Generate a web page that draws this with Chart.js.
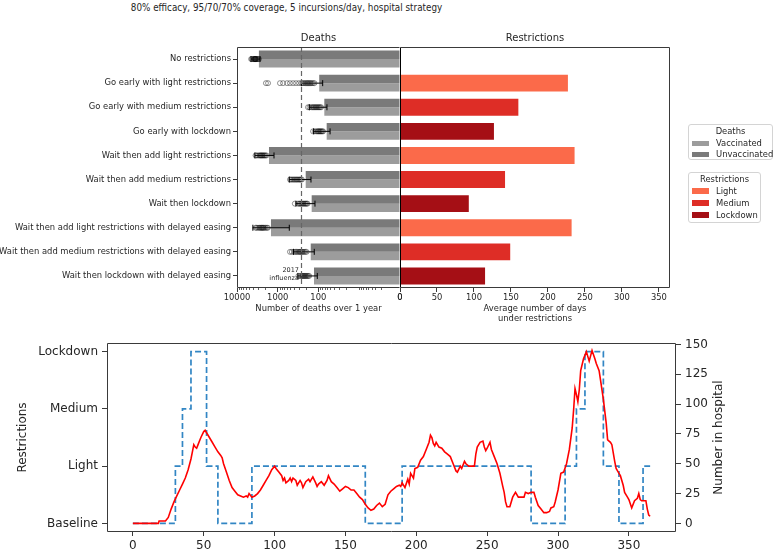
<!DOCTYPE html>
<html><head><meta charset="utf-8">
<script src="https://cdn.jsdelivr.net/npm/chart.js@4.4.1/dist/chart.umd.min.js"></script>
<style>
body{margin:0;background:#fff;width:777px;height:553px;overflow:hidden;position:relative;font-family:'DejaVu Sans',sans-serif;color:#262626}
canvas{position:absolute}
.t{position:absolute;white-space:nowrap;font-size:8.4px;line-height:10px}
.box{position:absolute;border:1px solid #d4d4d4;border-radius:3px;background:#fff;box-sizing:border-box}
.p{position:absolute;width:17px;height:5.5px}
</style></head><body>
<div class="t" style="left:0;top:1px;width:573px;text-align:center;font-size:11px;line-height:13px;transform:scaleX(0.8);transform-origin:286.5px 6px">80% efficacy, 95/70/70% coverage, 5 incursions/day, hospital strategy</div>
<canvas id="cA" width="420" height="300" style="left:0;top:30px"></canvas>
<canvas id="cB" width="310" height="300" style="left:380px;top:30px"></canvas>
<canvas id="cC" width="777" height="223" style="left:0;top:330px"></canvas>

<div class="box" style="left:688px;top:124px;width:85px;height:36px"></div>
<div class="t" style="left:688px;top:126px;width:85px;text-align:center">Deaths</div>
<div class="p" id="pV" style="left:692px;top:140.5px"></div><div class="t" style="left:716px;top:138px">Vaccinated</div>
<div class="p" id="pU" style="left:692px;top:151.5px"></div><div class="t" style="left:716px;top:149px">Unvaccinated</div>

<div class="box" style="left:688px;top:172px;width:73px;height:51px"></div>
<div class="t" style="left:688px;top:173.5px;width:73px;text-align:center">Restrictions</div>
<div class="p" id="pL" style="left:692px;top:188px"></div><div class="t" style="left:716px;top:185.7px">Light</div>
<div class="p" id="pM" style="left:692px;top:200px"></div><div class="t" style="left:716px;top:197.7px">Medium</div>
<div class="p" id="pK" style="left:692px;top:212.3px"></div><div class="t" style="left:716px;top:210px">Lockdown</div>

<script>
// ---------------- data ----------------
const rowLabels = [
  'No restrictions',
  'Go early with light restrictions',
  'Go early with medium restrictions',
  'Go early with lockdown',
  'Wait then add light restrictions',
  'Wait then add medium restrictions',
  'Wait then lockdown',
  'Wait then add light restrictions with delayed easing',
  'Wait then add medium restrictions with delayed easing',
  'Wait then lockdown with delayed easing'
];
const deathsUnvaccinated = [2900, 95, 71, 62, 1640, 205, 146, 1465, 154, 128];
const deathsVaccinated   = [2900, 95, 71, 62, 1640, 205, 146, 1465, 154, 128];
const runDeaths = [
  [4500, 4300, 4000, 3850, 3750, 3650, 3600, 3550, 3500, 3400, 3300, 3200, 3050, 2900],
  [1950, 1730, 880, 740, 590, 500, 420, 355, 300, 260, 240, 225, 210, 195, 185, 175, 165, 155, 145, 135, 125],
  [180, 165, 150, 140, 132, 125, 118, 112, 106, 100, 95, 90, 85],
  [135, 122, 112, 105, 100, 96, 92, 88, 84, 80, 76],
  [3500, 3300, 3050, 2850, 2700, 2600, 2500, 2400, 2300, 2200, 2100, 2000, 1880],
  [500, 470, 440, 410, 385, 360, 340, 320, 300, 285, 270, 255],
  [380, 320, 300, 285, 270, 255, 240, 228, 215, 205, 195, 185],
  [3500, 3300, 3050, 2850, 2700, 2550, 2450, 2350, 2250, 2150, 2000, 1850, 1750],
  [500, 450, 400, 370, 345, 320, 300, 285, 270, 255, 240, 225, 210, 195],
  [310, 285, 265, 250, 238, 228, 218, 208, 198, 188, 178, 168]
];
const errLow  = [2725, 78, 61, 51, 1235, 152, 121, 520, 126, 106];
const errHigh = [4530, 262, 167, 131, 3635, 520, 357, 4080, 410, 320];
const influenzaDeaths = 270;
const deathTicks = [0, 100, 1000, 10000];
const deathMinorTicks = [2,3,4,5,6,7,8,9,20,30,40,50,60,70,80,90,200,300,400,500,600,700,800,900,2000,3000,4000,5000,6000,7000,8000,9000];

const restrictionDays = [0, 227, 160, 127, 236, 142, 93, 232, 149, 115];
const restrictionType = ['Light', 'Light', 'Medium', 'Lockdown', 'Light', 'Medium', 'Lockdown', 'Light', 'Medium', 'Lockdown'];

const dayTicks = [0, 50, 100, 150, 200, 250, 300, 350];
const levelLabels = ['Baseline', 'Light', 'Medium', 'Lockdown'];
const stepDays   = [0, 30, 35, 41, 52, 60, 84, 164, 190, 281, 305, 313, 319, 332, 343, 360, 365];
const stepLevels = [0, 1, 2, 3, 1, 0, 1, 0, 1, 0, 1, 2, 3, 1, 0, 1, 1];

const hospDays = [0,18,18.5,23,25,27,29,31,33,35,37,39,41,42,43,44,45,46,47,48,50,51,52,54,56,58,60,62,63,64,66,68,70,72,74,76,78,80,81,82,84,86,88,90,92,94,96,98,100,101,103,105,106,107,108,110,111,112,113,115,116,118,119,120,122,124,125,127,129,130,131,133,135,137,138,140,142,144,146,148,150,152,154,156,158,160,162,164,166,168,170,172,174,176,178,180,182,184,186,188,189,190,192,194,195,196,198,199,201,203,205,207,209,210,211,212,213,214,216,218,220,222,224,226,228,229,231,232,234,235,237,239,241,242,243,245,247,248,249,250,252,253,255,257,259,261,262,263,264,266,268,270,272,274,276,277,279,281,283,284,286,288,290,292,294,295,297,298,300,302,304,306,308,310,311,312,313,314,315,316,318,320,322,324,326,327,329,330,332,334,335,337,338,340,341,343,344,346,347,349,350,352,354,356,357,358,359,361,362,363,364,365];
const hospCount = [0,0,2,2,5,12,18,23,28,33,38,45,54,60,66,64,63,66,69,72,77,78,76,72,68,64,60,57,55,50,43,36,30,27,24,23,22,23,22,25,22,23,25,28,32,36,40,45,48,46,43,40,36,38,34,36,38,35,38,36,32,36,34,30,35,37,35,39,34,31,33,35,32,36,40,35,33,30,27,29,31,30,28,28,25,22,20,16,13,11,12,15,17,14,16,24,27,29,31,32,31,34,30,37,33,42,38,46,47,53,56,62,68,74,72,67,65,68,64,63,60,58,56,50,44,43,48,46,52,50,48,48,48,58,64,68,69,64,61,63,68,62,56,50,42,31,26,18,14,14,22,26,22,22,22,26,25,26,26,22,15,12,9,9,10,13,14,18,28,42,43,50,62,80,95,113,108,102,112,128,138,144,136,145,138,134,128,120,104,84,70,68,66,52,46,42,40,32,26,22,20,13,19,21,25,20,19,19,19,12,7,6];

// ---------------- style ----------------
const TXT = '#262626', AX = '#3a3a3a';
const greyDark = '#7a7a7a', greyLight = '#9c9c9c';
const resColors = {Light: '#fb6a4a', Medium: '#de2d26', Lockdown: '#a50f15'};
document.getElementById('pV').style.background = greyLight;
document.getElementById('pU').style.background = greyDark;
document.getElementById('pL').style.background = resColors.Light;
document.getElementById('pM').style.background = resColors.Medium;
document.getElementById('pK').style.background = resColors.Lockdown;

Chart.defaults.font.family = "'DejaVu Sans', sans-serif";
Chart.defaults.color = TXT;
const fS = {size: 8.4, family: "'DejaVu Sans', sans-serif"};
const fB = {size: 12, family: "'DejaVu Sans', sans-serif"};
const tv = v => Math.log10(1 + v);

function framePlugin(leftColor, rightColor) {
  return {id: 'frame', afterDraw(chart) {
    const {ctx, chartArea: a} = chart;
    const L = Math.round(a.left) + 0.5, R = Math.round(a.right) - 0.5, T = Math.round(a.top) + 0.5, B = Math.round(a.bottom) - 0.5;
    ctx.save(); ctx.lineWidth = 1;
    ctx.strokeStyle = AX; ctx.beginPath(); ctx.moveTo(L, T); ctx.lineTo(R, T); ctx.moveTo(L, B); ctx.lineTo(R, B); ctx.stroke();
    if (leftColor) { ctx.strokeStyle = leftColor; ctx.beginPath(); ctx.moveTo(L, T); ctx.lineTo(L, B); ctx.stroke(); }
    if (rightColor) { ctx.strokeStyle = rightColor; ctx.beginPath(); ctx.moveTo(R, T); ctx.lineTo(R, B); ctx.stroke(); }
    ctx.restore();
  }};
}
function panelTitle(text) {
  return {id: 'ptitle', afterDraw(chart) {
    const {ctx, chartArea: a} = chart;
    ctx.save(); ctx.font = "10px 'DejaVu Sans'"; ctx.fillStyle = TXT; ctx.textAlign = 'center'; ctx.textBaseline = 'middle';
    ctx.fillText(text, (a.left + a.right) / 2, a.top - 9); ctx.restore();
  }};
}

// ---------------- Chart A: deaths ----------------
const scatterData = [];
runDeaths.forEach((arr, i) => arr.forEach(v => scatterData.push({x: tv(v), y: rowLabels[i]})));
const errSets = rowLabels.map((lab, i) => ({
  type: 'line', data: [{x: tv(errLow[i]), y: lab}, {x: tv(errHigh[i]), y: lab}],
  borderColor: '#000', borderWidth: 1, pointStyle: 'line', pointRotation: 90, pointRadius: 3,
  pointBorderColor: '#000', pointBorderWidth: 1, order: 0
}));
new Chart(document.getElementById('cA'), {
  type: 'bar',
  data: {labels: rowLabels, datasets: [
    {label: 'Unvaccinated', data: deathsUnvaccinated.map(tv), backgroundColor: greyDark, categoryPercentage: 0.7, barPercentage: 1, order: 3},
    {label: 'Vaccinated', data: deathsVaccinated.map(tv), backgroundColor: greyLight, categoryPercentage: 0.7, barPercentage: 1, order: 3},
    {type: 'scatter', data: scatterData, pointRadius: 2.5, pointBorderWidth: 1, pointBorderColor: 'rgba(0,0,0,0.42)', pointBackgroundColor: 'rgba(0,0,0,0)', order: 1},
    ...errSets
  ]},
  options: {
    indexAxis: 'y', responsive: false, animation: false,
    layout: {padding: {left: 0, right: 20, top: 17, bottom: 0}},
    plugins: {legend: {display: false}, tooltip: {enabled: false}},
    scales: {
      x: {type: 'linear', min: 0, max: tv(10000), reverse: true,
        afterBuildTicks: s => { s.ticks = deathTicks.map(v => ({value: tv(v)})); },
        ticks: {font: fS, color: TXT, padding: 1, maxRotation: 0, autoSkip: false,
          callback: val => { const i = deathTicks.findIndex(v => Math.abs(tv(v) - val) < 1e-6); return i >= 0 ? String(deathTicks[i]) : ''; }},
        grid: {drawOnChartArea: false, tickLength: 4, color: AX},
        border: {display: false},
        title: {display: true, text: 'Number of deaths over 1 year', font: fS, color: TXT, padding: {top: 0, bottom: 16.5}},
        afterFit: s => { s.height = 42; }
      },
      y: {type: 'category', offset: true,
        ticks: {font: fS, color: TXT, padding: 2, autoSkip: false},
        grid: {drawOnChartArea: false, tickLength: 4, color: AX, offset: false},
        border: {display: false},
        afterFit: s => { s.width = 237; }
      }
    }
  },
  plugins: [framePlugin(AX, null), panelTitle('Deaths'), {
    id: 'flu', afterDatasetsDraw(chart) {
      const {ctx, chartArea: a} = chart; const xs = chart.scales.x;
      const x = Math.round(xs.getPixelForValue(tv(influenzaDeaths))) + 0.5;
      ctx.save(); ctx.setLineDash([5, 3]); ctx.strokeStyle = '#666'; ctx.lineWidth = 1.2;
      ctx.beginPath(); ctx.moveTo(x, a.top); ctx.lineTo(x, a.bottom); ctx.stroke(); ctx.setLineDash([]);
      ctx.font = "6.5px 'DejaVu Sans'"; ctx.fillStyle = TXT; ctx.textAlign = 'right'; ctx.textBaseline = 'middle';
      ctx.fillText('2017', x - 2.5, 240); ctx.fillText('influenza', x - 2.5, 248.3);
      ctx.strokeStyle = AX; ctx.lineWidth = 0.8; ctx.beginPath();
      deathMinorTicks.forEach(v => { const px = Math.round(xs.getPixelForValue(tv(v))) + 0.5; ctx.moveTo(px, a.bottom); ctx.lineTo(px, a.bottom + 2); });
      ctx.stroke(); ctx.restore();
    }
  }]
});

// ---------------- Chart B: restrictions ----------------
new Chart(document.getElementById('cB'), {
  type: 'bar',
  data: {labels: rowLabels, datasets: [
    {data: restrictionDays, backgroundColor: restrictionType.map(t => resColors[t]), categoryPercentage: 0.7, barPercentage: 1}
  ]},
  options: {
    indexAxis: 'y', responsive: false, animation: false,
    layout: {padding: {left: 20, right: 20, top: 17, bottom: 0}},
    plugins: {legend: {display: false}, tooltip: {enabled: false}},
    scales: {
      x: {type: 'linear', min: 0, max: 365,
        afterBuildTicks: s => { s.ticks = dayTicks.map(v => ({value: v})); },
        ticks: {font: fS, color: TXT, padding: 1, maxRotation: 0},
        grid: {drawOnChartArea: false, tickLength: 4, color: AX},
        border: {display: false},
        title: {display: true, text: ['Average number of days', 'under restrictions'], font: fS, color: TXT, padding: {top: 0, bottom: 6.5}},
        afterFit: s => { s.height = 42; }
      },
      y: {type: 'category', offset: true, display: false}
    }
  },
  plugins: [framePlugin('#000', AX), panelTitle('Restrictions')]
});

// ---------------- Chart C: timeline ----------------
new Chart(document.getElementById('cC'), {
  type: 'line',
  data: {datasets: [
    {data: hospDays.map((d, i) => ({x: d, y: hospCount[i]})), yAxisID: 'y1', borderColor: '#ff0000', borderWidth: 1.6, pointRadius: 0, tension: 0, order: 0},
    {data: stepDays.map((d, i) => ({x: d, y: stepLevels[i]})), yAxisID: 'y', borderColor: '#3286c4', borderWidth: 1.7, borderDash: [6, 3], stepped: 'before', pointRadius: 0, order: 1}
  ]},
  options: {
    responsive: false, animation: false,
    layout: {padding: {left: 0, right: 0, top: 13, bottom: 0}},
    plugins: {legend: {display: false}, tooltip: {enabled: false}},
    scales: {
      x: {type: 'linear', min: -18.25, max: 383.25,
        afterBuildTicks: s => { s.ticks = dayTicks.map(v => ({value: v})); },
        ticks: {font: fB, color: TXT, padding: 3, maxRotation: 0, autoSkip: false},
        grid: {drawOnChartArea: false, tickLength: 4, color: AX},
        border: {display: false},
        afterFit: s => { s.height = 21; }
      },
      y: {type: 'linear', position: 'left', min: -0.15, max: 3.15,
        afterBuildTicks: s => { s.ticks = levelLabels.map((l, i) => ({value: i})); },
        ticks: {font: fB, color: TXT, padding: 4, callback: v => levelLabels[v] ?? ''},
        grid: {drawOnChartArea: false, tickLength: 5, color: AX},
        border: {display: false},
        title: {display: true, text: 'Restrictions', font: fB, color: TXT, padding: {top: 16, bottom: 0}},
        afterFit: s => { s.width = 107; }
      },
      y1: {type: 'linear', position: 'right', min: -7.2, max: 151.2,
        afterBuildTicks: s => { s.ticks = [0, 25, 50, 75, 100, 125, 150].map(v => ({value: v})); },
        ticks: {font: fB, color: TXT, padding: 4},
        grid: {drawOnChartArea: false, tickLength: 5, color: AX},
        border: {display: false},
        afterFit: s => { s.width = 101; }
      }
    }
  },
  plugins: [framePlugin(AX, AX), {
    id: 'rtitle', afterDraw(chart) {
      const {ctx, chartArea: a} = chart;
      ctx.save(); ctx.translate(719, (a.top + a.bottom) / 2); ctx.rotate(-Math.PI / 2);
      ctx.font = "12px 'DejaVu Sans'"; ctx.fillStyle = TXT; ctx.textAlign = 'center'; ctx.textBaseline = 'middle';
      ctx.fillText('Number in hospital', 0, 0); ctx.restore();
    }
  }]
});
</script>
</body></html>
